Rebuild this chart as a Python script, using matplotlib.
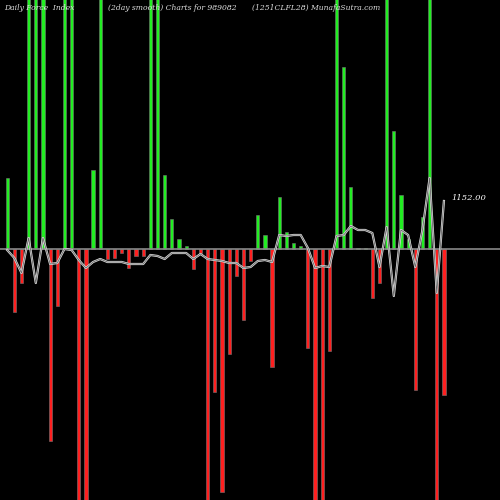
import matplotlib
matplotlib.use("Agg")
from matplotlib import pyplot as plt

# bar values in pixel-ish units (positive = green up, negative = red down)
force = [71, -63, -34, 260, 260, 260, -192, -57, 260, 260, -260, -260, 79, 260,
         -10, -9, -4, -19, -7, -7, 260, 260, 74, 30, 10, 3, -20, -4, -260, -143,
         -243, -105, -27, -71, -12, 34, 14, -118, 52, 17, 6, 3, -99, -260, -260,
         -102, 260, 182, 62, 1, 1, -49, -34, 260, 118, 54, 10, -141, 32, 260,
         -260, -146]
smooth = [-1, -9, -24, 11, -34, 11, -15, -14, 0, -1, -11, -19, -13, -10, -13,
          -13, -13, -15, -15, -15, -6, -7, -10, -4, -4, -4, -10, -5, -10, -11,
          -12, -14, -14, -19, -18, -12, -11, -13, 14, 13, 14, 14, 1, -19, -17,
          -18, 13, 14, 23, 19, 19, 16, -18, 22, -47, 19, 14, -18, 19, 71, -44, 48]
last_label = "1152.00"

fig = plt.figure(figsize=(5, 5), dpi=100, facecolor="black")
ax = fig.add_axes([0, 0, 1, 1], facecolor="black")
ax.set_axis_off()

xs = list(range(1, len(force) + 1))
colors = ["#22ee22" if v > 0 else "#ff2020" for v in force]
ax.bar(xs, force, width=0.45, color=colors, edgecolor="#777777", linewidth=0.4)
ax.axhline(0, color="#888888", linewidth=1.2)
ax.plot(xs, smooth, color="#dddddd", linewidth=1.6)
ax.plot(xs, smooth, color="#666666", linewidth=0.6)

ax.set_xlim(0, 500 / 7.16)
ax.set_ylim(-251, 249)

ax.text(xs[-1] + 1, 51, last_label, color="white", fontsize=6,
        family="DejaVu Serif", style="italic", va="center")

tkw = dict(color="#dddddd", fontsize=5.5, family="DejaVu Serif", style="italic",
           va="top", transform=fig.transFigure)
fig.text(0.008, 0.992, "Daily Force  Index", **tkw)
fig.text(0.216, 0.992, "(2day smooth) Charts for 989082", **tkw)
fig.text(0.504, 0.992, "(1251CLFL28) MunafaSutra.com", **tkw)

fig.savefig("out.png", dpi=100, facecolor="black")
